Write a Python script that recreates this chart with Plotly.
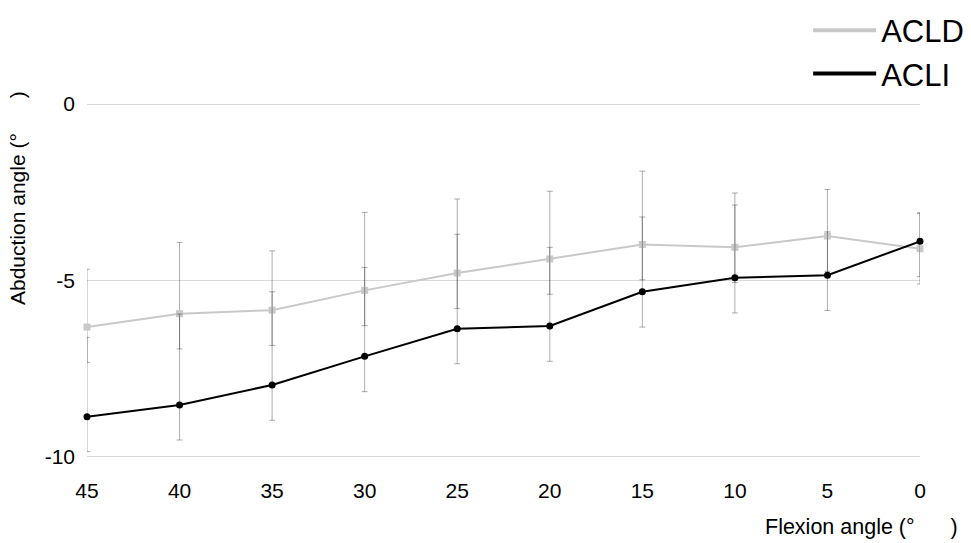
import plotly.graph_objects as go

flexion = [45, 40, 35, 30, 25, 20, 15, 10, 5, 0]

acld_mean = [-6.32, -5.94, -5.84, -5.28, -4.79, -4.39, -3.98, -4.06, -3.74, -4.10]
acld_err_plus = [1.64, 2.02, 1.68, 2.21, 2.10, 1.92, 2.08, 1.54, 1.32, 1.00]
acld_err_minus = [1.00, 1.00, 1.00, 1.00, 1.00, 1.00, 1.00, 1.00, 1.00, 1.00]

acli_mean = [-8.86, -8.53, -7.96, -7.15, -6.37, -6.29, -5.32, -4.92, -4.85, -3.89]
acli_err_plus = [2.25, 2.58, 2.64, 2.52, 2.68, 2.23, 2.12, 2.06, 1.23, 0.81]
acli_err_minus = [0.99, 0.99, 1.00, 1.00, 0.99, 1.00, 1.00, 1.00, 1.00, 1.00]

y_ticks = [0, -5, -10]
x_ticks = [45, 40, 35, 30, 25, 20, 15, 10, 5, 0]

FONT = "Liberation Sans, Arial, Helvetica, sans-serif"
GRAY = "#c9c9c9"
ERR = "rgba(0,0,0,0.32)"
GAP = "\u00a0" * 6

fig = go.Figure()

fig.add_trace(go.Scatter(
    x=flexion, y=acld_mean, mode="lines+markers", name="ACLD", showlegend=False,
    line=dict(color=GRAY, width=2),
    marker=dict(symbol="square", size=7, color=GRAY),
    error_y=dict(type="data", symmetric=False, array=acld_err_plus,
                 arrayminus=acld_err_minus, color=ERR, thickness=1, width=3),
    cliponaxis=False,
))
fig.add_trace(go.Scatter(
    x=flexion, y=acli_mean, mode="lines+markers", name="ACLI", showlegend=False,
    line=dict(color="black", width=2),
    marker=dict(symbol="circle", size=7, color="black"),
    error_y=dict(type="data", symmetric=False, array=acli_err_plus,
                 arrayminus=acli_err_minus, color=ERR, thickness=1, width=3),
    cliponaxis=False,
))

# legend entries (line only, as in the reference)
fig.add_trace(go.Scatter(x=[None], y=[None], mode="lines", name="ACLD",
                         line=dict(color=GRAY, width=4)))
fig.add_trace(go.Scatter(x=[None], y=[None], mode="lines", name="ACLI",
                         line=dict(color="black", width=4)))

fig.update_layout(
    width=971, height=543,
    margin=dict(l=87, r=51, t=103, b=85, autoexpand=False),
    paper_bgcolor="white", plot_bgcolor="white",
    font=dict(family=FONT, color="black", size=21),
    legend=dict(x=1.059, xanchor="right", y=1.28, yanchor="top",
                font=dict(size=31), itemwidth=63, bgcolor="rgba(0,0,0,0)"),
    xaxis=dict(range=[45, 0], tickmode="array", tickvals=x_ticks,
               ticktext=[str(v) for v in x_ticks],
               showgrid=False, zeroline=False, showline=False, ticks="",
               ticklabelstandoff=18, tickfont=dict(size=21)),
    yaxis=dict(range=[-10.03, 0.03], tickmode="array", tickvals=y_ticks,
               ticktext=[str(v) for v in y_ticks],
               showgrid=True, gridcolor="#d9d9d9", gridwidth=1,
               zeroline=False, showline=False, ticks="",
               ticklabelstandoff=11, tickfont=dict(size=21)),
    annotations=[
        dict(text="Abduction angle (°" + GAP + ")", xref="paper", yref="paper",
             x=-0.084, y=(458 - 198) / 355, xanchor="center", yanchor="middle",
             textangle=-90, showarrow=False, font=dict(size=21)),
        dict(text="Flexion angle (°" + GAP + ")", xref="paper", yref="paper",
             x=(960 - 87) / 833, y=(458 - 527) / 355, xanchor="right", yanchor="middle",
             showarrow=False, font=dict(size=21.5)),
    ],
)

fig.write_html("out.html", config={"displayModeBar": False},
               post_script="document.body.style.margin='0';")
